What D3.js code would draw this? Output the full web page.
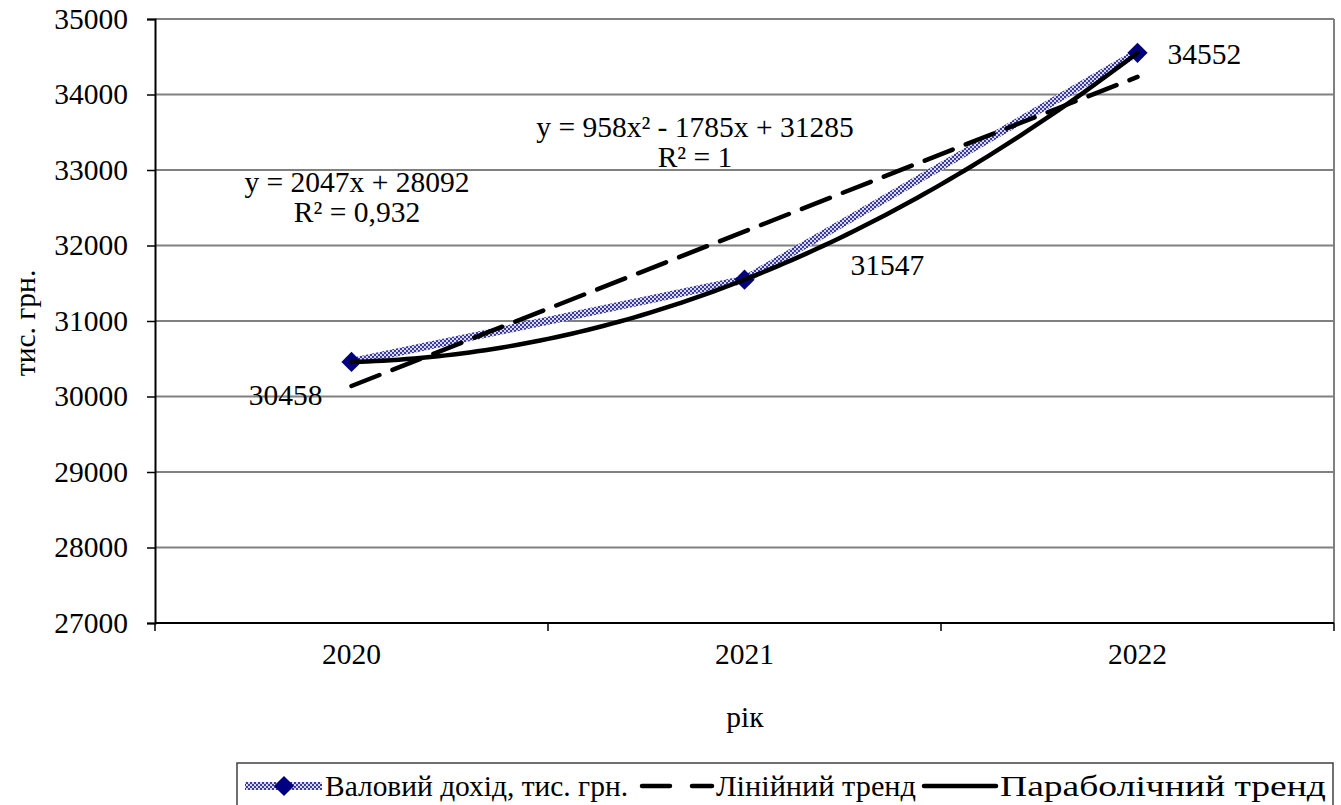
<!DOCTYPE html>
<html>
<head>
<meta charset="utf-8">
<script src="https://cdn.jsdelivr.net/npm/d3@7"></script>
<style>
  html, body { margin: 0; padding: 0; background: #fff; }
</style>
</head>
<body>
<svg id="chart" width="1341" height="805" font-family="Liberation Serif"></svg>
<script>
// Gross income by year, thousand UAH
const years = ["2020", "2021", "2022"];
const income = [30458, 31547, 34552];
const yTicks = [27000, 28000, 29000, 30000, 31000, 32000, 33000, 34000, 35000];

// Trend coefficients (x = 1, 2, 3 for the years)
const linearCoef = [2047, 28092];          // y = a*x + b
const parabolaCoef = [958, -1785, 31285];  // y = a*x^2 + b*x + c
const linearLabel = ["y = 2047x + 28092", "R² = 0,932"];
const parabolaLabel = ["y = 958x² - 1785x + 31285", "R² = 1"];
const legendNames = ["Валовий дохід, тис. грн.", "Лінійний тренд", "Параболічний тренд"];

const FONT = "Liberation Serif";
const FS = 29.5;
const LFS = 30;
const svg = d3.select("#chart");
const plot = { left: 155, right: 1334, top: 19, bottom: 623 };

const xBand = d3.scaleBand().domain(years).range([plot.left, plot.right]).padding(0);
const xIdx = d3.scaleLinear().domain([0.5, years.length + 0.5]).range([plot.left, plot.right]);
const y = d3.scaleLinear().domain([27000, 35000]).range([plot.bottom, plot.top]);

// Checkered fill for the data series line
const defs = svg.append("defs");
const pat = defs.append("pattern").attr("id", "check")
  .attr("width", 4).attr("height", 4).attr("patternUnits", "userSpaceOnUse");
pat.append("rect").attr("width", 4).attr("height", 4).attr("fill", "#d8d8f0");
pat.append("rect").attr("width", 2).attr("height", 2).attr("fill", "#3a3aa0");
pat.append("rect").attr("x", 2).attr("y", 2).attr("width", 2).attr("height", 2).attr("fill", "#3a3aa0");

// Horizontal gridlines
svg.append("g").selectAll("line").data(yTicks.filter(t => t > 27000)).join("line")
  .attr("x1", plot.left).attr("x2", plot.right)
  .attr("y1", d => y(d)).attr("y2", d => y(d))
  .attr("stroke", "#808080").attr("stroke-width", 2);

// Right border of plot area
svg.append("line")
  .attr("x1", plot.right).attr("x2", plot.right)
  .attr("y1", plot.top).attr("y2", plot.bottom)
  .attr("stroke", "#808080").attr("stroke-width", 2);

// Y axis
const yAxis = svg.append("g").attr("transform", `translate(${plot.left},0)`)
  .call(d3.axisLeft(y).tickValues(yTicks).tickSize(8).tickPadding(19).tickFormat(d3.format("d")))
  .attr("font-family", FONT).attr("font-size", FS);
yAxis.select(".domain").attr("stroke", "#000").attr("stroke-width", 2);
yAxis.selectAll(".tick line").attr("stroke", "#000").attr("stroke-width", 1.5);
yAxis.selectAll(".tick text").attr("font-family", FONT).attr("font-size", FS).attr("fill", "#000");

// X axis: ticks at category boundaries, labels at band centres
const bounds = d3.range(years.length + 1).map(i => plot.left + i * xBand.bandwidth());
const xg = svg.append("g");
xg.append("line").attr("x1", plot.left).attr("x2", plot.right)
  .attr("y1", plot.bottom).attr("y2", plot.bottom)
  .attr("stroke", "#000").attr("stroke-width", 2);
xg.selectAll("line.tk").data(bounds).join("line").attr("class", "tk")
  .attr("x1", d => d).attr("x2", d => d)
  .attr("y1", plot.bottom).attr("y2", plot.bottom + 8)
  .attr("stroke", "#000").attr("stroke-width", 1.5);
xg.selectAll("text").data(years).join("text")
  .attr("x", d => xBand(d) + xBand.bandwidth() / 2)
  .attr("y", 664)
  .attr("text-anchor", "middle").attr("font-family", FONT).attr("font-size", FS).text(d => d);

// Axis titles
svg.append("text").attr("x", (plot.left + plot.right) / 2 + 0.5).attr("y", 727)
  .attr("text-anchor", "middle").attr("font-family", FONT).attr("font-size", FS).text("рік");
svg.append("text").attr("transform", "translate(35,323) rotate(-90)")
  .attr("text-anchor", "middle").attr("font-family", FONT).attr("font-size", FS).text("тис. грн.");

// Data series line and markers
const pts = income.map((v, i) => [xIdx(i + 1), y(v)]);
svg.append("path").attr("d", d3.line()(pts))
  .attr("fill", "none").attr("stroke", "url(#check)").attr("stroke-width", 8)
  .attr("stroke-linejoin", "round");
const diamond = d3.symbol().type(d3.symbolDiamond2).size(260);
svg.append("g").selectAll("path").data(pts).join("path")
  .attr("transform", d => `translate(${d[0]},${d[1]})`)
  .attr("d", diamond).attr("fill", "#000080");

// Linear trend
const linPts = [1, 3].map(x => [xIdx(x), y(linearCoef[0] * x + linearCoef[1])]);
svg.append("path").attr("d", d3.line()(linPts))
  .attr("fill", "none").attr("stroke", "#000").attr("stroke-width", 4.5)
  .attr("stroke-dasharray", "30,14").attr("stroke-linecap", "round");

// Parabolic trend, evaluated along the x range
const parXs = d3.range(1, 3.0001, 0.02);
const parPts = parXs.map(x => [xIdx(x), y(parabolaCoef[0] * x * x + parabolaCoef[1] * x + parabolaCoef[2])]);
svg.append("path").attr("d", d3.line()(parPts))
  .attr("fill", "none").attr("stroke", "#000").attr("stroke-width", 4.5)
  .attr("stroke-linecap", "round");

// Data labels
const labelPos = [
  { dx: -29, dy: 43, anchor: "end" },
  { dx: 106, dy: -5, anchor: "start" },
  { dx: 30, dy: 11, anchor: "start" }
];
svg.append("g").selectAll("text").data(income).join("text")
  .attr("x", (d, i) => xIdx(i + 1) + labelPos[i].dx)
  .attr("y", (d, i) => y(d) + labelPos[i].dy)
  .attr("text-anchor", (d, i) => labelPos[i].anchor)
  .attr("font-family", FONT).attr("font-size", FS).text(d => d);

// Trend equations
function eqLabel(lines, cx, y0) {
  svg.append("g").selectAll("text").data(lines).join("text")
    .attr("x", cx).attr("y", (d, i) => y0 + i * 30)
    .attr("text-anchor", "middle").attr("font-family", FONT).attr("font-size", FS).text(d => d);
}
eqLabel(linearLabel, 357, 192);
eqLabel(parabolaLabel, 695, 137);

// Legend
const lg = svg.append("g");
lg.append("rect").attr("x", 237).attr("y", 763).attr("width", 1096).attr("height", 60)
  .attr("fill", "#fff").attr("stroke", "#404040").attr("stroke-width", 1.5);
const ly = 786;
lg.append("line").attr("x1", 245).attr("x2", 322).attr("y1", ly).attr("y2", ly)
  .attr("stroke", "url(#check)").attr("stroke-width", 8);
lg.append("path").attr("transform", `translate(284,${ly})`).attr("d", diamond).attr("fill", "#000080");
lg.append("line").attr("x1", 642).attr("x2", 712).attr("y1", ly).attr("y2", ly)
  .attr("stroke", "#000").attr("stroke-width", 4.5).attr("stroke-dasharray", "28,22").attr("stroke-linecap", "round");
lg.append("line").attr("x1", 924).attr("x2", 996).attr("y1", ly).attr("y2", ly)
  .attr("stroke", "#000").attr("stroke-width", 4.5).attr("stroke-linecap", "round");
const legendX = [325, 716, 1000];
const legendLen = [303, 200, 326];
lg.selectAll("text").data(legendNames).join("text")
  .attr("x", (d, i) => legendX[i]).attr("y", ly + 10)
  .attr("textLength", (d, i) => legendLen[i]).attr("lengthAdjust", "spacingAndGlyphs")
  .attr("font-family", FONT).attr("font-size", LFS).text(d => d);
</script>
</body>
</html>
